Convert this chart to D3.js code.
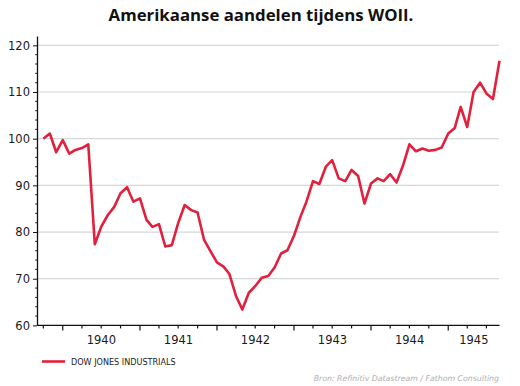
<!DOCTYPE html>
<html><head><meta charset="utf-8">
<script src="https://cdn.jsdelivr.net/npm/d3@7"></script>
<style>body{margin:0;background:#fff}svg{display:block}</style>
</head><body><svg id="c" width="520" height="386"></svg>
<script>
const title = "Amerikaanse aandelen tijdens WOII.";
const seriesName = "DOW JONES INDUSTRIALS";
const sourceText = "Bron:  Refinitiv Datastream / Fathom Consulting";
const firstMonth = "1939-10-01";
const values = [
  100.0, 101.1, 97.1,
  99.7, 96.8, 97.6, 98.0, 98.8, 77.4, 81.1, 83.6, 85.4, 88.3, 89.6, 86.5,
  87.2, 82.6, 81.1, 81.7, 76.9, 77.2, 81.9, 85.8, 84.7, 84.2, 78.3, 75.9,
  73.5, 72.6, 71.0, 66.3, 63.4, 67.0, 68.4, 70.2, 70.6, 72.4, 75.4, 76.1,
  79.2, 83.3, 86.5, 90.9, 90.3, 94.0, 95.4, 91.5, 90.9, 93.3, 92.0, 86.1,
  90.4, 91.5, 90.9, 92.4, 90.6, 94.3, 98.8, 97.3, 97.9, 97.4, 97.6, 98.1,
  101.1, 102.3, 106.8, 102.5, 110.0, 112.0, 109.7, 108.5, 116.7
];
const yTicks = [60, 70, 80, 90, 100, 110, 120];
const yearLabels = ["1940", "1941", "1942", "1943", "1944", "1945"];
const domainStart = "1939-09-01", domainEnd = "1945-09-01";

const parse = d3.utcParse("%Y-%m-%d");
const d0 = parse(firstMonth);
const data = values.map((v, i) => ({ date: d3.utcMonth.offset(d0, i), v }));

const svg = d3.select("#c");
const L = 37, R = 499.5, T = 36, B = 325.4;
const x = d3.scaleUtc().domain([parse(domainStart), parse(domainEnd)]).range([L, R]);
const y = d3.scaleLinear().domain([60, 122]).range([B, T]);
const font = "'DejaVu Sans', Verdana, sans-serif";

// gridlines
svg.append("g").selectAll("line").data(yTicks.filter(t => t > 60)).join("line")
  .attr("x1", L).attr("x2", R - 0.5).attr("y1", d => y(d)).attr("y2", d => y(d))
  .attr("stroke", "#d3d8d8").attr("stroke-width", 1.2);

// y axis
const yAxis = svg.append("g").attr("transform", `translate(${L},0)`)
  .call(d3.axisLeft(y).tickValues(yTicks).tickSize(4).tickPadding(3).tickSizeOuter(0));
yAxis.select(".domain").attr("stroke", "#111").attr("stroke-width", 1.3);
yAxis.selectAll(".tick line").attr("stroke", "#111");
yAxis.selectAll("text").attr("font-family", font).attr("font-size", 11.5).attr("fill", "#1a1a1a");
const yMinor = d3.range(62, 121, 2).filter(v => v % 10 !== 0);
svg.append("g").selectAll("line").data(yMinor).join("line")
  .attr("x1", L - 2).attr("x2", L).attr("y1", d => y(d)).attr("y2", d => y(d))
  .attr("stroke", "#333").attr("stroke-width", 1);

// x axis
const xAxisG = svg.append("g").attr("transform", `translate(0,${B})`);
xAxisG.append("line").attr("x1", L).attr("x2", R).attr("y1", 0).attr("y2", 0)
  .attr("stroke", "#111").attr("stroke-width", 1.3);
const quarters = d3.utcMonth.every(3).range(parse(domainStart), parse(domainEnd)).filter(d => +d > +parse(domainStart));
xAxisG.selectAll("line.q").data(quarters).join("line").attr("class", "q")
  .attr("x1", d => x(d)).attr("x2", d => x(d)).attr("y1", 0)
  .attr("y2", d => d.getUTCMonth() === 0 ? 5 : 3)
  .attr("stroke", "#111").attr("stroke-width", 1.2);
xAxisG.selectAll("text").data(yearLabels).join("text")
  .attr("x", d => {
    const a = Math.max(+parse(d + "-01-01"), +x.domain()[0]);
    const b = Math.min(+parse((+d + 1) + "-01-01"), +x.domain()[1]);
    return (x(new Date(a)) + x(new Date(b))) / 2;
  })
  .attr("y", 19).attr("text-anchor", "middle")
  .attr("font-family", font).attr("font-size", 11.5).attr("fill", "#1a1a1a")
  .text(d => d);

// line
const lineColor = "#e2203d";
svg.append("path").datum(data)
  .attr("fill", "none").attr("stroke", lineColor).attr("stroke-width", 2.6)
  .attr("stroke-linejoin", "round")
  .attr("d", d3.line().x(d => x(d.date)).y(d => y(d.v)));

// title
const t = svg.append("text").attr("x", 261).attr("y", 21).attr("text-anchor", "middle")
  .attr("font-family", "'Open Sans', sans-serif").attr("font-weight", "bold")
  .attr("font-size", 16).attr("fill", "#111").text(title);
const tw = t.node().getComputedTextLength();
t.attr("font-size", 16 * 305 / tw);

// legend
svg.append("line").attr("x1", 42).attr("x2", 65).attr("y1", 361.5).attr("y2", 361.5)
  .attr("stroke", lineColor).attr("stroke-width", 2.6);
svg.append("text").attr("x", 71).attr("y", 364.5)
  .attr("font-family", font).attr("font-size", 8.1).attr("fill", "#222").text(seriesName);

// source
svg.append("text").attr("x", 499).attr("y", 381).attr("text-anchor", "end")
  .attr("font-family", font).attr("font-style", "italic").attr("font-size", 7.8)
  .attr("fill", "#b0b0b0").text(sourceText);
</script></body></html>
